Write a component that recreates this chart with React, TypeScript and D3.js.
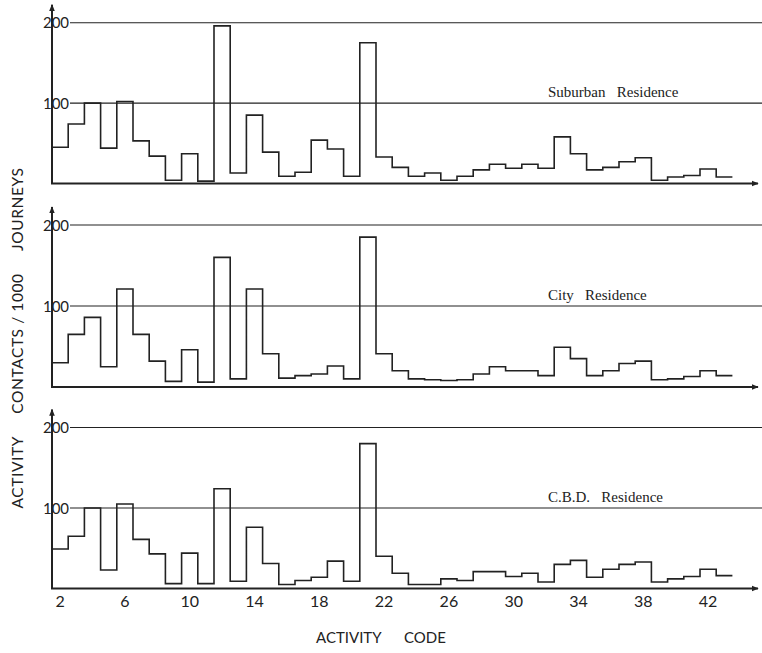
import React, { useEffect, useRef } from "react";
import * as d3 from "d3";

// activity codes 2..43, one bar each
const codes = d3.range(2, 44);

const suburban = [45, 74, 100, 44, 102, 53, 34, 4, 37, 3, 196, 13, 85, 39, 9, 14, 54, 43, 9, 175, 33, 20,
  9, 13, 4, 9, 17, 24, 19, 24, 19, 58, 37, 17, 20, 27, 32, 4, 8, 10, 18, 8];
const city = [30, 65, 86, 25, 121, 65, 32, 7, 46, 6, 160, 10, 121, 41, 11, 14, 16, 26, 10, 185, 41, 20,
  10, 9, 8, 9, 16, 25, 20, 20, 14, 49, 35, 14, 20, 29, 32, 9, 10, 13, 20, 14];
const cbd = [49, 65, 100, 23, 105, 61, 43, 6, 44, 6, 124, 9, 76, 31, 5, 10, 14, 34, 9, 180, 40, 19,
  5, 5, 12, 10, 21, 21, 15, 19, 8, 30, 35, 14, 24, 30, 33, 8, 12, 15, 24, 16];

const panelNames = ["Suburban   Residence", "City   Residence", "C.B.D.   Residence"];
const xTicks = [2, 6, 10, 14, 18, 22, 26, 30, 34, 38, 42];
const yTicks = [100, 200];

const W = 762;
const H = 653;
const ink = "#222";

const drawChart = (node: SVGSVGElement) => {
  const svg = d3.select(node);
  svg.selectAll("*").remove();

  const x = d3.scaleLinear().domain([2, 44]).range([52, 732.4]);
  const series = [suburban, city, cbd];
  const bases = [183.5, 387, 588.5];
  const tops = [22.7, 225, 427.5];

  const defs = svg.append("defs");
  defs.append("marker")
    .attr("id", "arrow")
    .attr("viewBox", "0 0 10 10")
    .attr("refX", 9).attr("refY", 5)
    .attr("markerWidth", 7).attr("markerHeight", 7)
    .attr("markerUnits", "userSpaceOnUse")
    .attr("orient", "auto")
    .append("path")
    .attr("d", "M0,1 L10,5 L0,9 Z")
    .attr("fill", ink);

  series.forEach((vals, i) => {
    const y = d3.scaleLinear().domain([0, 200]).range([bases[i], tops[i]]);
    const g = svg.append("g");

    // gridlines at 100 and 200
    g.selectAll("line.grid")
      .data(yTicks)
      .join("line")
      .attr("x1", 70).attr("x2", W)
      .attr("y1", d => y(d)).attr("y2", d => y(d))
      .attr("stroke", ink).attr("stroke-width", 1.1);

    g.selectAll("text.ytick")
      .data(yTicks)
      .join("text")
      .attr("x", 56).attr("y", d => y(d) + 5.5)
      .attr("text-anchor", "middle")
      .attr("font-family", "Lato, sans-serif")
      .attr("font-size", 15)
      .attr("fill", ink)
      .text(d => d);

    // axes
    g.append("line")
      .attr("x1", 52).attr("x2", 52)
      .attr("y1", bases[i]).attr("y2", y(200) - 18)
      .attr("stroke", ink).attr("stroke-width", 2)
      .attr("marker-end", "url(#arrow)");
    g.append("line")
      .attr("x1", 51).attr("x2", 758)
      .attr("y1", bases[i]).attr("y2", bases[i])
      .attr("stroke", ink).attr("stroke-width", 2)
      .attr("marker-end", "url(#arrow)");

    // stepped histogram outline
    const pts: [number, number][] = codes.map((c, k) => [c, vals[k]]);
    pts.push([44, vals[vals.length - 1]]);
    const line = d3.line<[number, number]>()
      .x(d => x(d[0]))
      .y(d => y(d[1]))
      .curve(d3.curveStepAfter);
    g.append("path")
      .attr("d", `M${x(2)},${bases[i]}L` + line(pts)!.slice(1))
      .attr("fill", "none")
      .attr("stroke", ink)
      .attr("stroke-width", 1.6);

    g.append("text")
      .attr("x", 548).attr("y", bases[i] - 87)
      .attr("font-family", "Liberation Serif, serif")
      .attr("font-size", 15)
      .attr("fill", ink)
      .style("white-space", "pre")
      .text(panelNames[i]);
  });

  svg.append("g")
    .selectAll("text")
    .data(xTicks)
    .join("text")
    .attr("x", d => x(d + 0.5))
    .attr("y", 607)
    .attr("text-anchor", "middle")
    .attr("font-family", "Lato, sans-serif")
    .attr("font-size", 16)
    .attr("fill", ink)
    .text(d => d);

  svg.append("text")
    .attr("x", 381).attr("y", 643)
    .attr("text-anchor", "middle")
    .attr("font-family", "Lato, sans-serif")
    .attr("font-size", 15)
    .attr("fill", ink)
    .style("white-space", "pre")
    .text("ACTIVITY      CODE");

  svg.append("text")
    .attr("transform", "translate(23,338) rotate(-90)")
    .attr("text-anchor", "middle")
    .attr("font-family", "Lato, sans-serif")
    .attr("font-size", 15.5)
    .attr("letter-spacing", 0.6)
    .attr("fill", ink)
    .style("white-space", "pre")
    .text("ACTIVITY     CONTACTS / 1000     JOURNEYS");
};

const App = () => {
  const ref = useRef<SVGSVGElement>(null);
  useEffect(() => {
    if (ref.current) drawChart(ref.current);
  }, []);
  return (
    <svg ref={ref} width={W} height={H}
      style={{ position: "absolute", left: 0, top: 0, background: "#fff" }} />
  );
};

export default App;
